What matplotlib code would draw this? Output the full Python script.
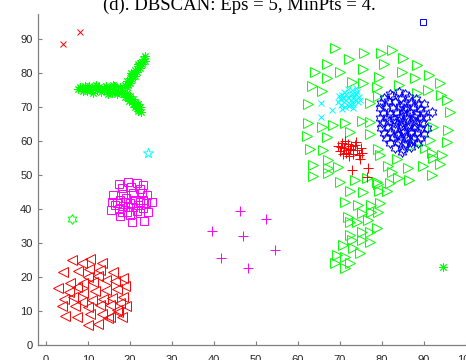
import numpy as np
import matplotlib
matplotlib.use("Agg")
import matplotlib.pyplot as plt
from matplotlib.path import Path

# ---------------- data ----------------
title_text = "(d). DBSCAN: Eps = 5, MinPts = 4."
xticks = [0, 10, 20, 30, 40, 50, 60, 70, 80, 90, 100]
yticks = [0, 10, 20, 30, 40, 50, 60, 70, 80, 90]

red_tri_x = [6.3, 8.5, 10.5, 13.3, 4.1, 7.7, 10.3, 12.9, 15.9, 5.7, 8.7, 11.1, 14.3, 16.4, 18.4,
             2.9, 5.5, 8.9, 11.7, 14.4, 16.8, 18.8, 4.3, 6.5, 8.5, 10.9, 13.6, 15.6, 18.4,
             3.7, 6.9, 10.1, 12.9, 15.2, 17.6, 4.5, 7.3, 10.5, 13.3, 15.2, 17.2, 18.0, 10.1, 12.5,
             16.8, 19.0, 14.7, 7.5, 12.3, 10.0]
red_tri_y = [25.0, 24.0, 25.2, 24.2, 21.6, 21.9, 22.3, 22.1, 21.6, 18.3, 18.1, 18.6, 19.1, 18.9, 19.6,
             16.7, 15.7, 15.2, 16.0, 16.2, 16.4, 17.4, 13.4, 14.2, 12.7, 13.2, 13.4, 13.7, 14.2,
             11.5, 11.5, 11.1, 11.8, 11.8, 12.3, 8.5, 8.3, 9.1, 9.1, 8.3, 9.8, 8.3, 5.9, 6.2,
             10.2, 11.5, 8.0, 17.0, 20.3, 20.0]

mag_sq_x = [17.4, 19.6, 21.7, 23.2, 18.0, 20.2, 22.4, 16.0, 18.4, 20.8, 22.8, 24.0, 15.6, 17.6, 19.0,
            21.2, 23.2, 25.2, 16.4, 18.4, 20.0, 22.0, 23.8, 15.4, 17.5, 19.4, 21.6, 23.2, 24.4,
            17.6, 20.0, 22.4, 20.4, 23.3, 16.8, 18.8, 20.8, 22.4, 18.0, 19.6]
mag_sq_y = [47.4, 48.0, 47.6, 47.1, 46.1, 46.6, 45.8, 44.1, 44.4, 44.6, 44.8, 44.1, 42.2, 42.7, 43.4,
            42.7, 42.8, 42.2, 41.2, 40.9, 41.7, 41.2, 41.7, 39.7, 39.9, 39.2, 39.5, 40.2, 39.2,
            38.0, 38.2, 38.7, 36.3, 36.6, 41.7, 42.2, 40.5, 42.2, 39.2, 40.7]

grn_ast_x = [7.6, 8.2, 8.7, 9.2, 9.7, 10.2, 10.7, 11.2, 11.7, 12.2, 12.7, 13.2, 13.7, 14.2, 14.7,
             15.2, 15.7, 16.2, 16.7, 17.2, 17.7, 18.2, 11.8, 14.8, 9.2, 16.8, 13.0, 15.9, 17.9, 10.4,
             18.7, 19.3, 19.3, 19.9, 19.9, 20.5, 20.5, 21.1, 21.1, 21.7, 21.8, 22.3, 22.4, 22.9,
             23.0, 23.5, 23.6, 20.2, 22.0, 19.6,
             18.6, 19.2, 19.3, 19.9, 20.0, 20.6, 20.7, 21.3, 21.4, 21.9, 22.0, 22.5, 22.6, 19.8,
             21.1, 18.9, 21.8]
grn_ast_y = [75.2, 76.0, 74.6, 75.6, 74.8, 76.1, 75.0, 74.3, 75.8, 74.9, 76.0, 74.5, 75.3, 76.2, 74.6,
             75.5, 74.3, 76.3, 75.0, 74.4, 75.9, 75.1, 76.6, 73.9, 76.3, 73.8, 75.2, 76.5, 74.2, 75.4,
             76.5, 76.0, 77.6, 77.1, 78.7, 78.2, 79.8, 79.3, 80.9, 80.4, 82.0, 81.5, 83.1, 82.6,
             84.2, 83.6, 84.9, 79.9, 82.8, 76.6,
             73.8, 74.2, 72.9, 73.4, 72.0, 72.5, 71.0, 71.6, 70.2, 70.8, 69.3, 69.9, 68.6, 71.8,
             70.0, 73.0, 68.9]

grn_tri_x = [68.8, 72.2, 75.7, 79.8, 82.3, 85.1, 66.8, 70.0, 75.4, 80.5, 84.7, 88.3,
             64.0, 66.8, 72.8, 75.5, 79.4, 87.9, 91.3, 93.8, 78.7, 84.1, 88.3, 91.0, 94.0,
             79.0, 95.4, 96.2, 63.3, 65.6, 62.5, 77.1,
             62.5, 65.6, 68.3, 71.2, 75.2, 77.1, 62.1, 66.8, 72.4, 77.1, 62.9, 66.0, 79.1,
             67.2, 63.6, 67.2, 69.6, 63.6, 70.0, 73.6, 76.4, 78.7, 79.5,
             92.2, 95.8, 91.4, 95.4, 87.5, 90.2, 91.8, 94.2, 92.2, 83.5, 89.8, 93.8, 81.5, 86.3,
             91.8, 82.3, 83.9, 86.5, 79.1, 81.9, 79.3, 81.3, 67.2, 72.4, 75.5,
             71.2, 74.4, 77.5, 79.5, 77.5, 79.1, 72.0, 72.4, 75.2, 76.7, 74.0, 72.4, 75.2, 77.1,
             78.7, 72.8, 75.2, 77.1, 70.8, 73.2, 74.8, 69.2, 71.2, 72.4, 68.8, 71.2]
grn_tri_y = [87.4, 84.3, 85.8, 85.8, 86.8, 84.5, 82.8, 80.2, 81.1, 82.8, 80.2, 82.5,
             80.2, 78.6, 77.5, 77.0, 78.8, 78.6, 79.4, 77.0, 75.9, 76.5, 74.3, 75.0, 73.5,
             73.2, 72.1, 68.6, 76.3, 74.7, 70.8, 71.1,
             65.2, 64.2, 64.7, 65.4, 66.0, 65.7, 61.5, 61.3, 62.7, 62.1, 57.8, 57.4, 57.8,
             54.4, 52.9, 52.0, 52.5, 49.7, 48.0, 48.5, 49.0, 48.0, 55.9,
             64.2, 63.2, 60.3, 59.8, 58.8, 58.1, 56.4, 55.9, 54.9, 54.6, 52.6, 53.4, 52.6, 52.0,
             50.0, 51.0, 49.0, 48.5, 47.4, 47.7, 45.3, 45.3, 50.5, 45.4, 45.1,
             42.2, 41.2, 41.2, 41.9, 39.2, 39.2, 37.7, 36.3, 38.7, 36.8, 36.3, 32.4, 33.3, 33.3,
             34.3, 30.9, 30.9, 30.4, 29.4, 28.4, 27.0, 26.5, 26.0, 24.0, 24.0, 22.8]

cyan_x_x = [70.0, 70.5, 71.0, 71.5, 72.0, 72.5, 73.0, 73.5, 74.0, 74.5, 70.2, 71.2, 72.2, 73.2, 74.2,
            69.5, 71.8, 72.8, 73.8, 70.8, 72.3, 73.4, 71.5, 74.8, 69.8, 72.6, 73.9, 71.0, 70.4, 73.0,
            65.4, 68.0, 65.4]
cyan_x_y = [72.5, 73.5, 71.5, 74.0, 72.8, 71.0, 73.8, 72.2, 74.5, 73.0, 70.5, 70.0, 70.3, 70.8, 71.5,
            71.5, 75.2, 75.0, 75.6, 72.6, 73.6, 73.0, 72.0, 72.2, 73.4, 72.1, 73.9, 74.5, 69.4, 69.6,
            71.1, 69.1, 67.0]

red_plus_x = [69.5, 70.0, 70.5, 71.0, 71.5, 72.0, 72.5, 73.0, 73.5, 74.0, 74.5, 75.0, 70.8, 72.2,
              73.8, 71.3, 75.3, 74.8, 73.2, 72.7, 70.3, 71.8, 72.8, 76.7, 76.5]
red_plus_y = [58.5, 57.0, 59.5, 58.0, 56.5, 59.2, 57.8, 56.2, 58.8, 57.3, 55.8, 58.0, 56.2, 55.5,
              59.8, 60.0, 56.5, 54.8, 57.5, 58.5, 58.3, 57.3, 51.5, 52.0, 49.3]

blue_hex_x = [81.9, 84.0, 85.5, 80.5, 82.5, 84.5, 86.5, 88.0, 79.8, 81.5, 83.2, 85.0, 86.8, 88.5, 90.0,
              79.5, 81.0, 82.6, 84.2, 85.8, 87.4, 89.0, 92.0, 80.2, 81.8, 83.4, 85.0, 86.6, 88.2, 89.8,
              79.6, 81.2, 82.8, 84.4, 86.0, 87.6, 89.2, 90.5, 80.0, 81.6, 83.2, 84.8, 86.4, 88.0, 89.6,
              79.8, 81.4, 83.0, 84.6, 86.2, 87.8, 89.4, 90.8, 80.4, 82.0, 83.6, 85.2, 86.8, 88.4, 90.0,
              81.0, 82.6, 84.2, 85.8, 87.4, 89.0, 82.0, 83.8, 85.4, 87.0, 88.6, 83.2, 85.0, 86.8, 84.7,
              84.0, 85.6, 86.9, 84.9, 87.3, 85.3, 83.7, 86.1]
blue_hex_y = [74.0, 74.5, 73.8, 72.8, 73.2, 72.6, 73.0, 72.4, 71.2, 71.8, 71.4, 71.0, 71.6, 71.0, 70.8,
              69.8, 70.2, 69.6, 70.3, 69.8, 70.0, 69.5, 68.6, 68.4, 68.0, 68.6, 68.2, 68.7, 68.1, 68.3,
              66.8, 67.2, 66.6, 67.0, 66.5, 67.1, 66.7, 67.2, 65.3, 65.8, 65.2, 65.6, 65.1, 65.7, 65.3,
              63.8, 64.2, 63.7, 64.3, 63.9, 64.1, 63.6, 64.0, 62.3, 62.8, 62.2, 62.6, 62.4, 62.7, 62.1,
              60.8, 61.2, 60.7, 61.1, 60.6, 61.0, 59.4, 59.8, 59.2, 59.6, 59.3, 58.0, 57.8, 58.2, 56.9,
              65.9, 67.6, 62.9, 63.3, 66.0, 69.3, 61.8, 60.3]

mag_plus_x = [46.2, 52.4, 39.6, 47.0, 54.5, 41.7, 48.2]
mag_plus_y = [39.5, 37.0, 33.5, 32.1, 27.9, 25.6, 22.6]

red_x_x = [4.0, 8.1]
red_x_y = [88.5, 92.0]

blue_sq_x = [89.8]
blue_sq_y = [95.0]

grn_hex_x = [6.1]
grn_hex_y = [37.0]

cyan_pent_x = [24.3]
cyan_pent_y = [56.5]

grn_ast2_x = [94.5]
grn_ast2_y = [22.9]

# ---------------- marker shapes ----------------
def star_path(n, inner):
    ang = np.pi / 2 + np.arange(2 * n) * np.pi / n
    r = np.where(np.arange(2 * n) % 2 == 0, 1.0, inner)
    verts = np.column_stack([r * np.cos(ang), r * np.sin(ang)])
    verts = np.vstack([verts, verts[:1]])
    codes = [Path.MOVETO] + [Path.LINETO] * (2 * n - 1) + [Path.CLOSEPOLY]
    return Path(verts, codes)

hexagram = star_path(6, 0.577)
pentagram = star_path(5, 0.382)
asterisk = (8, 2, 0)

# ---------------- figure ----------------
W, H = 466, 360
fig = plt.figure(figsize=(W / 100, H / 100), dpi=100)
xmin, xmax = -1.9, 105.0
ymin, ymax = 0.0, 97.4
left_px, bottom_px, top_px = 38, 345, 14
ppx = 4.2
ax = fig.add_axes([left_px / W, (H - bottom_px) / H,
                   (xmax - xmin) * ppx / W, (bottom_px - top_px) / H])
ax.set_xlim(xmin, xmax)
ax.set_ylim(ymin, ymax)

R, G, B, C, M = '#FF0000', '#00FF00', '#0000FF', '#00FFFF', '#FF00FF'
lw = 0.7

def pts(x, y, marker, color, ms, z=2):
    ax.plot(x, y, linestyle='none', marker=marker, markersize=ms,
            markerfacecolor='none', markeredgecolor=color, markeredgewidth=lw,
            zorder=z, clip_on=False)

pts(grn_tri_x, grn_tri_y, '>', G, 6.5)
pts(red_tri_x, red_tri_y, '<', R, 6.5)
pts(mag_sq_x, mag_sq_y, 's', M, 5.6)
pts(grn_ast_x, grn_ast_y, asterisk, G, 6)
pts(cyan_x_x, cyan_x_y, 'x', C, 5)
pts(red_plus_x, red_plus_y, '+', R, 6.5)
pts(blue_hex_x, blue_hex_y, hexagram, B, 7)
pts(mag_plus_x, mag_plus_y, '+', M, 7)
pts(red_x_x, red_x_y, 'x', R, 4.5)
pts(blue_sq_x, blue_sq_y, 's', B, 5)
pts(grn_hex_x, grn_hex_y, hexagram, G, 7)
pts(cyan_pent_x, cyan_pent_y, pentagram, C, 7.5)
pts(grn_ast2_x, grn_ast2_y, asterisk, G, 6)

axcol = '#808080'
for s in ['top', 'right']:
    ax.spines[s].set_visible(False)
for s in ['left', 'bottom']:
    ax.spines[s].set_color(axcol)
    ax.spines[s].set_linewidth(0.9)
ax.set_xticks(xticks)
ax.set_yticks(yticks)
ax.tick_params(direction='in', length=3, width=0.8, color=axcol,
               labelcolor='#262626', labelsize=8)
ax.tick_params(axis='x', pad=7)
ax.tick_params(axis='y', pad=4)
for lab in ax.get_xticklabels() + ax.get_yticklabels():
    lab.set_fontfamily('Liberation Sans')

fig.text(239 / W, 1 - 10 / H, title_text, ha='center', va='baseline',
         fontsize=13.5, family='Liberation Serif', color='black')

fig.savefig('out.png', dpi=100)
